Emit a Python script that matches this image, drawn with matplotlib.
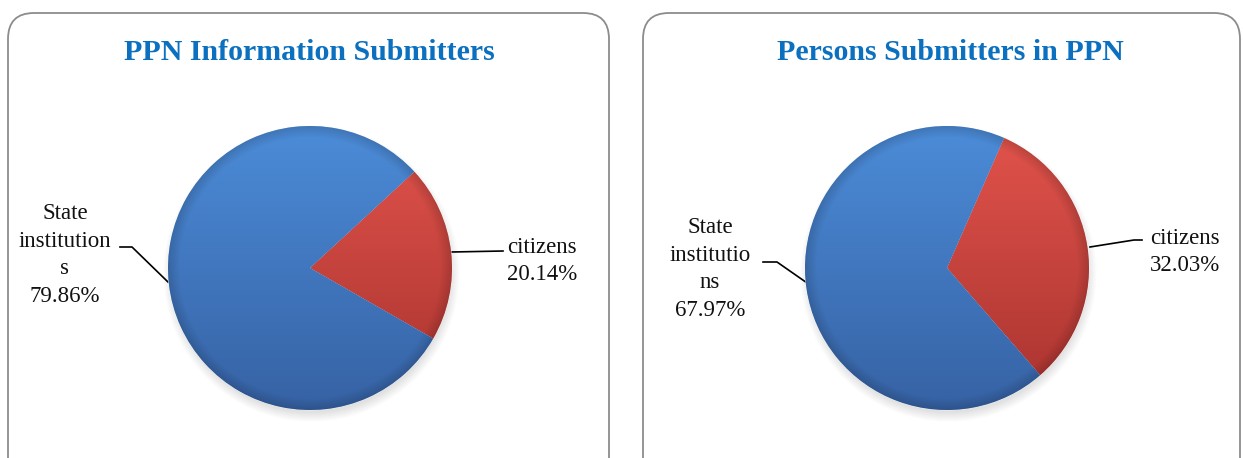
import numpy as np
import matplotlib
matplotlib.use("Agg")
from matplotlib import pyplot as plt
from matplotlib.patches import FancyBboxPatch, Circle

# data
slice_names = ["citizens", "State institutions"]
left_values = [20.14, 79.86]
right_values = [32.03, 67.97]
left_title = "PPN Information Submitters"
right_title = "Persons Submitters in PPN"
# label text as wrapped in the reference
left_label_text = ["citizens", "State\ninstitution\ns"]
right_label_text = ["citizens", "State\ninstitutio\nns"]

W, H = 1243, 458
fig = plt.figure(figsize=(W / 100, H / 100), dpi=100)
plt.rcParams['font.family'] = ['Liberation Serif', 'DejaVu Serif']

bg = fig.add_axes([0, 0, 1, 1])
bg.set_xlim(0, W)
bg.set_ylim(H, 0)
bg.axis('off')

# rounded panels
for x0, w in [(8, 601), (643, 597)]:
    bg.add_patch(FancyBboxPatch((x0, 13), w, 480,
                                boxstyle="round,pad=0,rounding_size=26",
                                fc='white', ec='#8c8c8c', lw=1.3))

title_color = '#0b70bf'
bg.text(309, 60, left_title, ha='center', va='baseline', fontsize=21.5,
        fontweight='bold', color=title_color)
bg.text(950, 60, right_title, ha='center', va='baseline', fontsize=21.5,
        fontweight='bold', color=title_color)


def shaded(top, bottom, n=300):
    # vertical gradient with a slightly darker rim
    yy, xx = np.mgrid[1:-1:n * 1j, -1:1:n * 1j]
    t = (1 - yy) / 2
    top = np.array(top) / 255
    bottom = np.array(bottom) / 255
    img = top[None, None, :] * (1 - t[..., None]) + bottom[None, None, :] * t[..., None]
    r = np.hypot(xx, yy)
    rim = np.clip((r - 0.92) / 0.08, 0, 1)
    img = img * (1 - 0.15 * rim[..., None])
    return np.clip(img, 0, 1)


blue_img = shaded((76, 140, 216), (54, 98, 164))
red_img = shaded((226, 84, 76), (168, 50, 46))


def draw_pie(cx, cy, values, start, labels, label_pos, leaders):
    rpx = 142
    pad = 1.15
    ax = fig.add_axes([(cx - rpx * pad) / W, (H - cy - rpx * pad) / H,
                       2 * rpx * pad / W, 2 * rpx * pad / H])
    # soft shadow under the pie
    for k in range(10):
        ax.add_patch(Circle((0.01, -0.04), 0.98 + 0.007 * k, fc='#000000',
                            alpha=0.012, lw=0, zorder=0))
    wedges, _ = ax.pie(values, colors=['#c0403a', '#3f78c0'], startangle=start,
                       counterclock=False,
                       wedgeprops=dict(edgecolor='#ffffff', linewidth=0.4))
    for wdg, img in zip(wedges, [red_img, blue_img]):
        wdg.set_zorder(1)
        im = ax.imshow(img, extent=(-1, 1, -1, 1), origin='upper', zorder=2,
                       interpolation='bilinear')
        im.set_clip_path(wdg)
    ax.set_xlim(-pad, pad)
    ax.set_ylim(-pad, pad)
    ax.set_aspect('equal')
    ax.axis('off')
    for (name, val), (lx, ly), pts in zip(zip(labels, values), label_pos, leaders):
        bg.text(lx, ly, f"{name}\n{val:.2f}%", ha='center', va='center',
                fontsize=16.5, linespacing=1.42, color='#111111')
        bg.plot([p[0] for p in pts], [p[1] for p in pts], color='black', lw=1.2)


draw_pie(310, 268, left_values, 42.7, left_label_text,
         [(542, 261), (65, 255)],
         [[(452, 252), (503, 251)], [(168, 282), (132, 247), (120, 247)]])
draw_pie(947, 268, right_values, 66.3, right_label_text,
         [(1185, 252), (710, 269)],
         [[(1090, 247), (1134, 240), (1142, 240)],
          [(810, 285), (777, 262), (763, 262)]])

fig.savefig("out.png", dpi=100)
